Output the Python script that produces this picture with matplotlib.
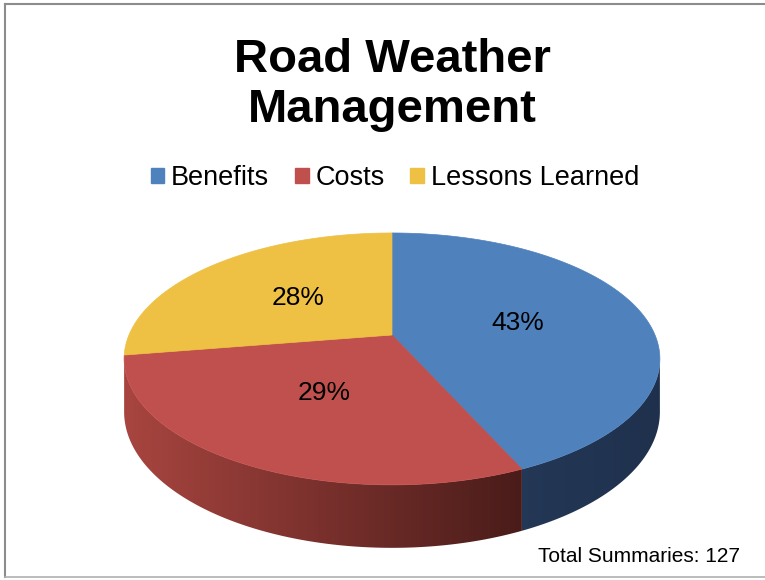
import numpy as np
import matplotlib.pyplot as plt
from matplotlib.patches import Patch, Polygon

plt.rcParams['font.family'] = ['Liberation Sans', 'DejaVu Sans']

title_lines = ['Road Weather', 'Management']
categories = ['Benefits', 'Costs', 'Lessons Learned']
counts = [55, 37, 35]
top_colors = ['#4f81bd', '#c0504d', '#eec043']
note = 'Total Summaries: 127'

# perspective settings for the tilted pie (pixel units)
cx, cy = 392, 335
sx, sy = 263, 121.4
k = 0.19
depth = 51

def proj(theta, r=1.0, z=0.0):
  u = r*np.cos(theta)
  v = r*np.sin(theta)
  w = 1 + k*v
  x = cx + sx*u/w
  y = cy - sy*v/w + depth*z/w
  return x, y

def side_color(i, x):
  # shaded side wall, lighter on the left
  if i == 1:
    t = np.clip((x - 124)/(520 - 124), 0, 1)[:, None]
    a = np.array([0.66, 0.27, 0.25])
    b = np.array([0.29, 0.11, 0.10])
    return a + (b - a)*t
  if i == 0:
    t = np.clip((x - 518)/(660 - 518), 0, 1)[:, None]
    a = np.array([0.14, 0.22, 0.34])
    b = np.array([0.12, 0.19, 0.30])
    return a + (b - a)*t
  return np.tile([0.62, 0.48, 0.15], (len(x), 1))

fig = plt.figure(figsize=(7.65, 5.8), dpi=100)
ax = fig.add_axes([0, 0, 1, 1])

fracs = np.array(counts)/np.sum(counts)
ends = np.pi/2 - 2*np.pi*np.cumsum(fracs)
starts = np.concatenate([[np.pi/2], ends[:-1]])

# side walls, only between the two silhouette points
vis_lo = -np.pi + np.arcsin(k)
vis_hi = -np.arcsin(k)
for i in range(len(counts)):
  a0, a1 = max(ends[i], vis_lo), min(starts[i], vis_hi)
  if a1 <= a0:
    continue
  t = np.linspace(a0, a1, 200)
  xt, yt = proj(t)
  xb, yb = proj(t, z=1)
  pts = np.column_stack([np.concatenate([xt, xb[::-1]]), np.concatenate([yt, yb[::-1]])])
  poly = Polygon(pts, closed=True, fc='none', ec='none')
  ax.add_patch(poly)
  x0, x1 = pts[:, 0].min() - 1, pts[:, 0].max() + 1
  y0, y1 = pts[:, 1].min() - 1, pts[:, 1].max() + 1
  gx = np.linspace(x0, x1, 400)
  grad = side_color(i, gx)[None, :, :]
  im = ax.imshow(grad, extent=(x0, x1, y1, y0), aspect='auto', interpolation='bilinear')
  im.set_clip_path(poly)

# top face
for i in range(len(counts)):
  t = np.linspace(starts[i], ends[i], 200)
  xs, ys = proj(t)
  xs = np.concatenate([[cx], xs])
  ys = np.concatenate([[cy], ys])
  ax.fill(xs, ys, color=top_colors[i], lw=0.5, ec=top_colors[i])

# data labels
for i in range(len(counts)):
  mid = (starts[i] + ends[i])/2
  x, y = proj(mid, r=0.5)
  ax.text(x, y, '{:.0f}%'.format(fracs[i]*100), ha='center', va='center', fontsize=19)

ax.text(392, 72, title_lines[0], ha='center', va='baseline', fontsize=34, fontweight='bold')
ax.text(392, 122, title_lines[1], ha='center', va='baseline', fontsize=34, fontweight='bold')

handles = [Patch(color=c) for c in top_colors]
ax.legend(handles, categories, loc='center', bbox_to_anchor=(395/765, 1 - 178/580), ncol=3,
          frameon=False, fontsize=19.5, handlelength=0.5, handleheight=0.5,
          handletextpad=0.25, columnspacing=0.95, borderpad=0)

ax.text(740, 556, note, ha='right', va='center', fontsize=15)

# frame on left, top and bottom only
ax.plot([5, 765], [4, 4], color='#8c8c8c', lw=1.5)
ax.plot([5, 5], [4, 577], color='#8c8c8c', lw=1.5)
ax.plot([5, 765], [577, 577], color='#b0b0b0', lw=1.2)

ax.set_xlim(0, 765)
ax.set_ylim(580, 0)
ax.axis('off')

fig.savefig('out.png', dpi=100)
